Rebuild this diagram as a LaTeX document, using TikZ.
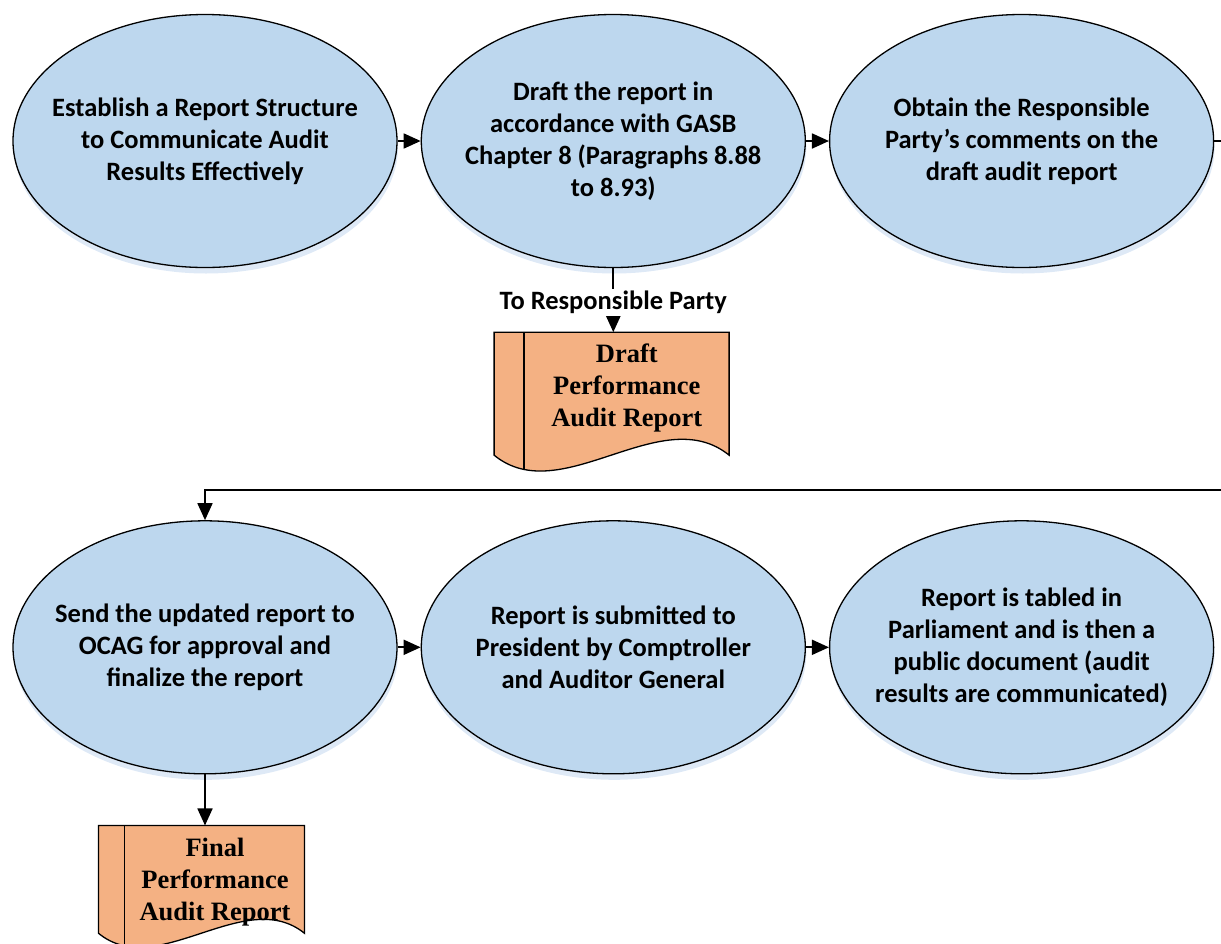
\documentclass[tikz,border=0pt]{standalone}
\usepackage{fontspec}
\setmainfont{Liberation Serif}
\newfontfamily\calibri{Carlito}
\usetikzlibrary{positioning,shapes.geometric,arrows.meta,shadows,backgrounds}
\definecolor{stageblue}{RGB}{189,215,238}
\definecolor{docorange}{RGB}{244,177,131}
\definecolor{glow}{RGB}{222,233,246}

% document shape behind a doc node (node = text part right of the strip): #1 node name, #2 scale
\newcommand{\docshape}[2]{%
  \begin{scope}[shift={(#1.north west)}, scale=#2]
    \fill[docorange] (-30,0) -- (205,0) -- (205,123) .. controls (137,68) and (37,178) .. (-30,123) -- cycle;
    \begin{scope}
      \clip (-30,0) -- (205,0) -- (205,123) .. controls (137,68) and (37,178) .. (-30,123) -- cycle;
      \draw[line width=1.3pt] (0,0) -- (0,180);
    \end{scope}
    \draw[line width=1.3pt] (-30,0) -- (205,0) -- (205,123) .. controls (137,68) and (37,178) .. (-30,123) -- cycle;
  \end{scope}}

\begin{document}
\begin{tikzpicture}[x=1pt, y=-1pt, node distance=23pt,
    stage/.style={ellipse, draw, line width=1.3pt, fill=stageblue,
      minimum width=384pt, minimum height=253pt, inner xsep=-25pt, inner ysep=0pt,
      align=center, font=\calibri\bfseries\fontsize{26.5}{32}\selectfont,
      drop shadow={shadow xshift=1pt, shadow yshift=-6pt, fill=glow, opacity=1}},
    doc/.style={minimum width=205pt, minimum height=112pt, inner sep=0pt,
      align=center, font=\bfseries\fontsize{26.5}{32}\selectfont},
    arr/.style={line width=1.8pt, -{Triangle[length=17pt, width=15pt]}}]
  \useasboundingbox (0,0) rectangle (1221,943);

  \node[stage] (e1) at (205,141) {Establish a Report Structure\\to Communicate Audit\\Results Effectively};
  \node[stage, right=of e1] (e2) {Draft the report in\\accordance with GASB\\Chapter 8 (Paragraphs 8.88\\to 8.93)};
  \node[stage, right=of e2] (e3) {Obtain the Responsible\\Party’s comments on the\\draft audit report};
  \node[stage, below=252pt of e1] (e4) {Send the updated report to\\OCAG for approval and\\finalize the report};
  \node[stage, right=of e4] (e5) {Report is submitted to\\President by Comptroller\\and Auditor General};
  \node[stage, right=of e5] (e6) {Report is tabled in\\Parliament and is then a\\public document (audit\\results are communicated)};

  \node[doc, below=64pt of e2, xshift=13.5pt] (d1) {Draft\\Performance\\Audit Report};
  \node[doc, minimum width=180pt, below=51pt of e4, xshift=10pt] (d2) {Final\\Performance\\Audit Report};
  \begin{pgfonlayer}{background}
    \docshape{d1}{1}
    \docshape{d2}{0.8766}
  \end{pgfonlayer}

  \coordinate (bend) at (1240,490);

  \draw[arr] (e1) -- (e2);
  \draw[arr] (e2) -- (e3);
  \draw[arr] (e4) -- (e5);
  \draw[arr] (e5) -- (e6);
  \draw[arr] (e3.east) -| (bend) -| (e4.north);
  \draw[arr] (e2.south) -- node[fill=white, inner sep=2pt, yshift=-2pt, font=\calibri\bfseries\fontsize{26.5}{32}\selectfont] (lbl) {To Responsible Party} (e2.south |- d1.north);
  \draw[arr] (e4.south) -- (e4.south |- d2.north);
\end{tikzpicture}
\end{document}
